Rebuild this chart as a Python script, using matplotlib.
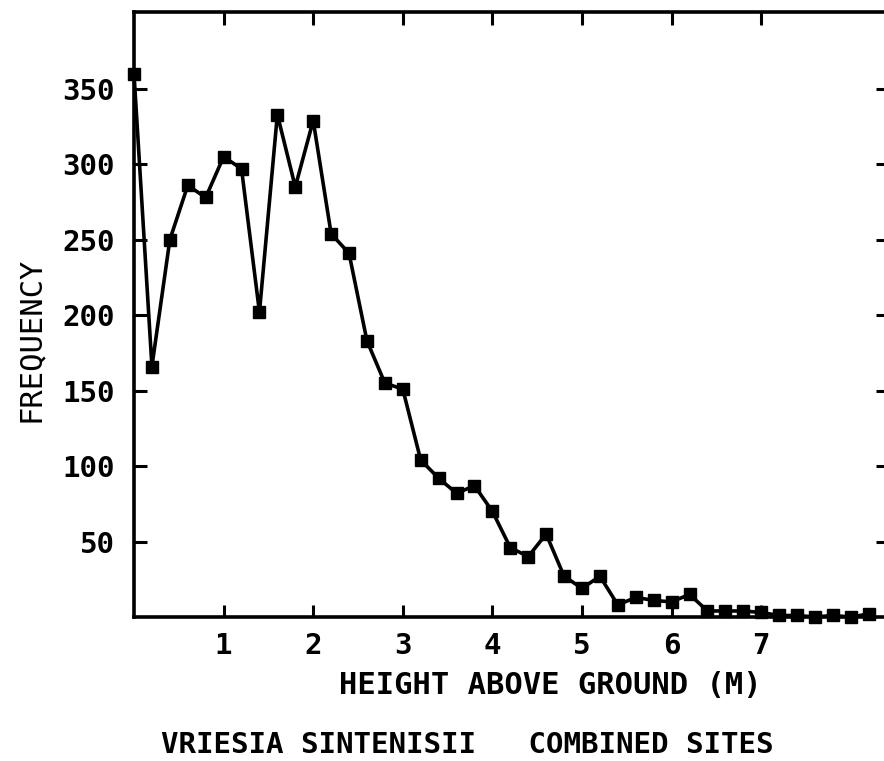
import matplotlib
matplotlib.use("Agg")
import matplotlib.pyplot as plt

heights = [0.0, 0.2, 0.4, 0.6, 0.8, 1.0, 1.2, 1.4, 1.6, 1.8, 2.0, 2.2, 2.4, 2.6,
           2.8, 3.0, 3.2, 3.4, 3.6, 3.8, 4.0, 4.2, 4.4, 4.6, 4.8, 5.0, 5.2, 5.4,
           5.6, 5.8, 6.0, 6.2, 6.4, 6.6, 6.8, 7.0, 7.2, 7.4, 7.6, 7.8, 8.0, 8.2]
frequency = [360, 166, 250, 286, 278, 305, 297, 202, 333, 285, 329, 254, 241, 183,
             155, 151, 104, 92, 82, 87, 70, 46, 40, 55, 27, 19, 27, 8,
             13, 11, 10, 15, 4, 4, 4, 3, 1, 1, 0, 1, 0, 2]
x_ticks = [1, 2, 3, 4, 5, 6, 7]
y_ticks = [50, 100, 150, 200, 250, 300, 350]

W, H = 884, 761
fig = plt.figure(figsize=(W / 100, H / 100), dpi=100)
left, right, top, bottom = 134, 888, 12, 617
ax = fig.add_axes([left / W, 1 - bottom / H, (right - left) / W, (bottom - top) / H])

ax.plot(heights, frequency, color="black", lw=2.6, marker="s", ms=8.5,
        mfc="black", mec="black", clip_on=False, zorder=3)

ax.set_xlim(0, (right - left) / 89.6)
ax.set_ylim(0, (bottom - top) / 1.509)

font = dict(family="DejaVu Sans Mono", weight="bold")
ax.set_xticks(x_ticks)
ax.set_xticklabels([str(v) for v in x_ticks], fontsize=21, **font)
ax.set_yticks(y_ticks)
ax.set_yticklabels([str(v) for v in y_ticks], fontsize=21, **font)

ax.tick_params(axis="both", direction="in", length=9, width=2.2,
               top=True, right=True, labeltop=False, labelright=False)
ax.tick_params(axis="x", pad=11)
ax.tick_params(axis="y", pad=14)
for s in ax.spines.values():
    s.set_linewidth(2.6)

fig.text(30 / W, 1 - 339 / H, "FREQUENCY", rotation=90, ha="center", va="center",
         fontsize=22, family="DejaVu Sans Mono")
fig.text(550 / W, 1 - 686 / H, "HEIGHT ABOVE GROUND (M)", ha="center", va="center",
         fontsize=22, **font)
fig.text(467 / W, 1 - 745 / H, "VRIESIA SINTENISII   COMBINED SITES", ha="center",
         va="center", fontsize=21, **font)

fig.savefig("out.png", dpi=100)
